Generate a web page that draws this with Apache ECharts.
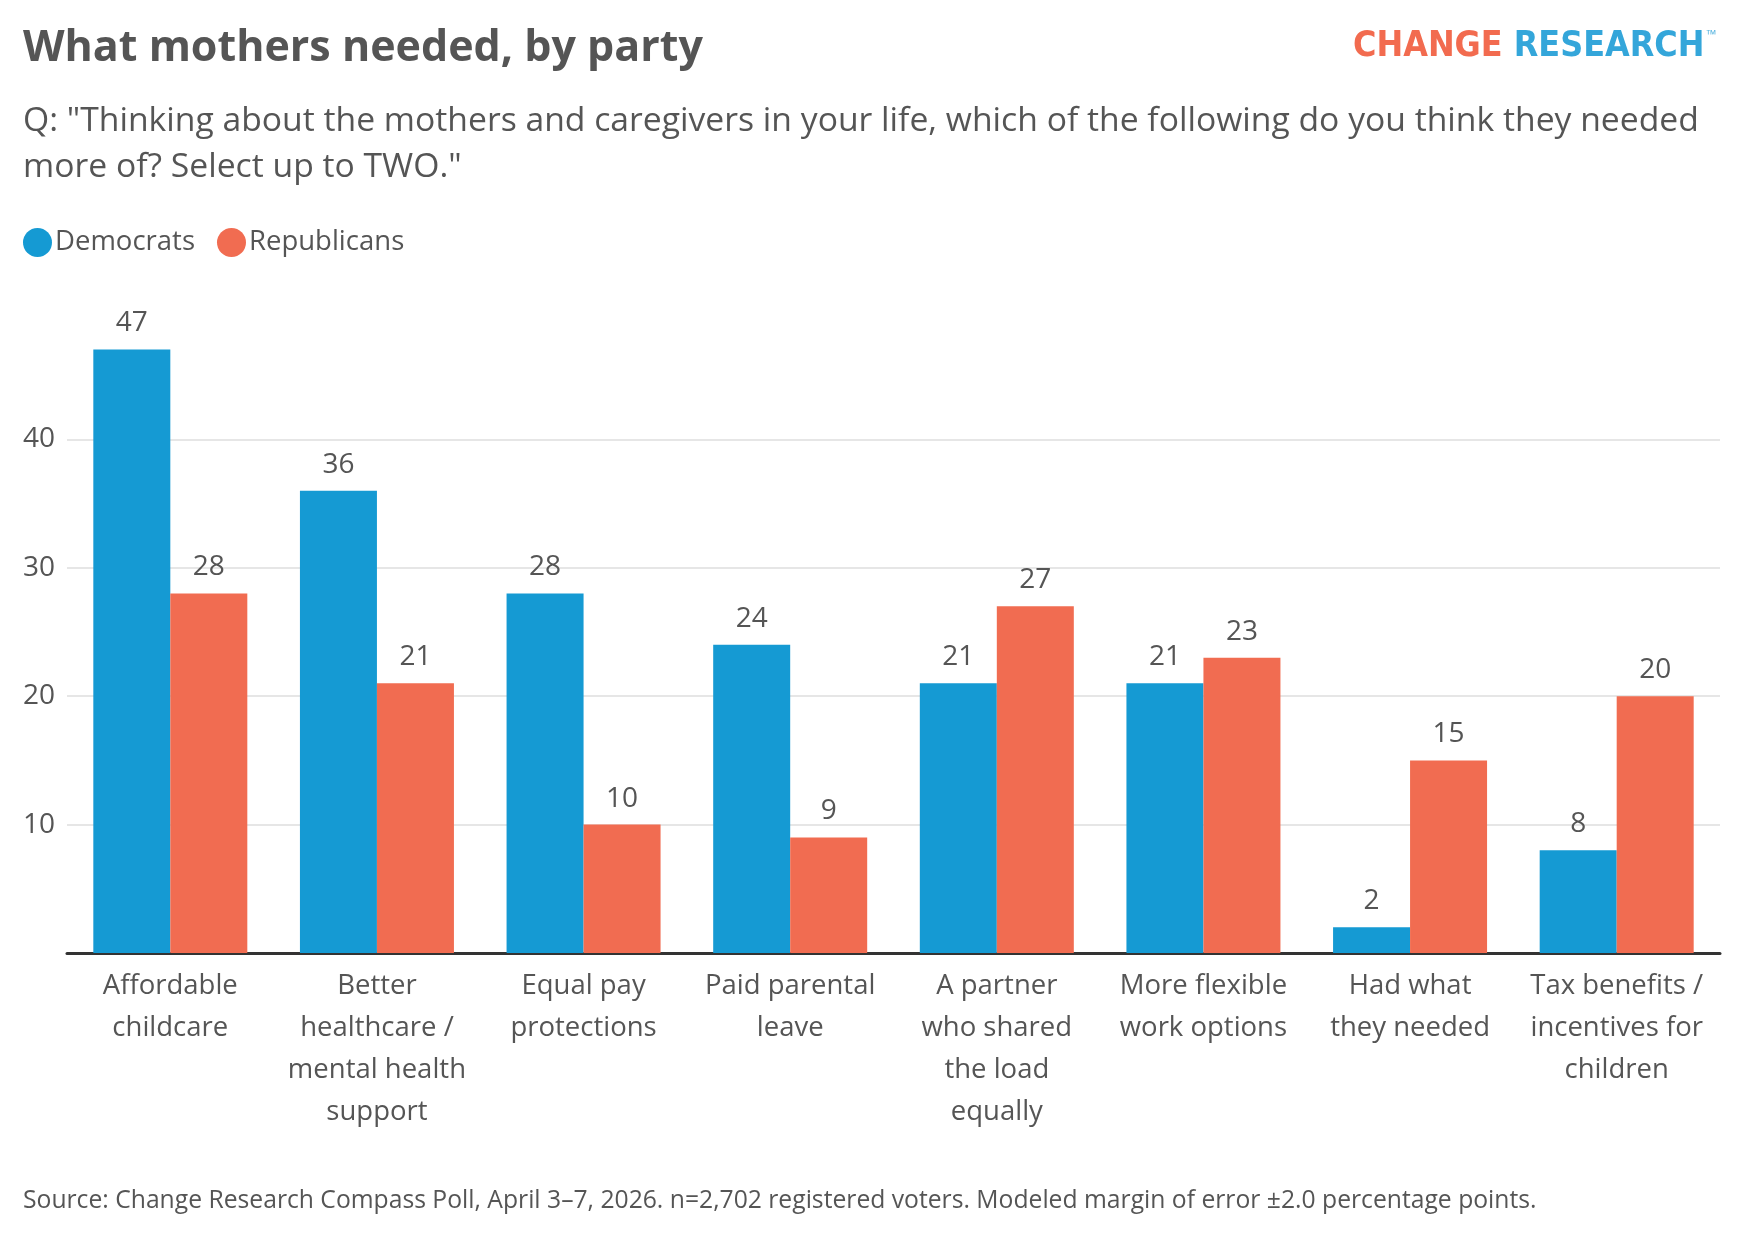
<!DOCTYPE html>
<html>
<head>
<meta charset="utf-8">
<script src="https://cdn.jsdelivr.net/npm/echarts@6/dist/echarts.min.js"></script>
<style>
  html, body { margin: 0; padding: 0; background: #fff; }
  #chart { width: 1740px; height: 1240px; }
</style>
</head>
<body>
<div id="chart"></div>
<script>
// What mothers needed, by party - grouped bars
const categories = [
    'Affordable\nchildcare',
    'Better\nhealthcare /\nmental health\nsupport',
    'Equal pay\nprotections',
    'Paid parental\nleave',
    'A partner\nwho shared\nthe load\nequally',
    'More flexible\nwork options',
    'Had what\nthey needed',
    'Tax benefits /\nincentives for\nchildren',
]
const democrats = [47, 36, 28, 24, 21, 21, 2, 8]
const republicans = [28, 21, 10, 9, 27, 23, 15, 20]
const yTicks = [0, 10, 20, 30, 40, 50]

const FONT = '"Open Sans", Lato, sans-serif'
const LOGO_FONT = '"DejaVu Sans Condensed", "DejaVu Sans", sans-serif'
const TEXT = '#555555'
const BLUE = '#159ad3'
const ORANGE = '#f16c51'

const chart = echarts.init(document.getElementById('chart'))

const option = {
    backgroundColor: '#ffffff',
    textStyle: { fontFamily: FONT },
    title: [
        {
            text: 'What mothers needed, by party',
            left: 18,
            top: 22,
            textStyle: { fontSize: 43, fontWeight: 'bold', color: TEXT, fontFamily: FONT },
        },
        {
            text: 'Q: "Thinking about the mothers and caregivers in your life, which of the following do you think they needed\nmore of? Select up to TWO."',
            left: 18,
            top: 93,
            textStyle: { fontSize: 33.7, fontWeight: 'normal', color: TEXT, lineHeight: 46, fontFamily: FONT },
        },
        {
            text: 'Source: Change Research Compass Poll, April 3\u20137, 2026. n=2,702 registered voters. Modeled margin of error \u00b12.0 percentage points.',
            left: 18,
            top: 1183,
            textStyle: { fontSize: 24.7, fontWeight: 'normal', color: TEXT, fontFamily: FONT },
        },
    ],
    graphic: [
        {
            type: 'text',
            x: 1353,
            y: 47,
            style: {
                text: '{c|CHANGE }{r|RESEARCH}{t|\u2122}',
                verticalAlign: 'middle',
                rich: {
                    c: { fontFamily: LOGO_FONT, fontWeight: 'bold', fontSize: 35.5, fill: '#f26b4f' },
                    r: { fontFamily: LOGO_FONT, fontWeight: 'bold', fontSize: 35.5, fill: '#34a6da' },
                    t: { fontFamily: FONT, fontSize: 13, fill: '#5bb6e0', verticalAlign: 'top', padding: [0, 0, 22, 2] },
                },
            },
        },
    ],
    legend: {
        left: 18,
        top: 223,
        icon: 'circle',
        itemWidth: 29,
        itemHeight: 29,
        itemGap: 22,
        textStyle: { fontSize: 27.5, color: TEXT, fontFamily: FONT, padding: [0, 0, 0, -2] },
        data: ['Democrats', 'Republicans'],
    },
    grid: {
        left: 67,
        right: 20,
        top: 311,
        bottom: 287,
    },
    xAxis: {
        type: 'category',
        data: categories,
        axisTick: { show: false },
        axisLine: { lineStyle: { color: '#333333', width: 3 } },
        axisLabel: {
            interval: 0,
            fontSize: 27.5,
            lineHeight: 42,
            color: TEXT,
            margin: 12,
            fontFamily: FONT,
        },
    },
    yAxis: {
        type: 'value',
        min: yTicks[0],
        max: yTicks[yTicks.length - 1],
        interval: 10,
        axisLine: { show: false },
        axisTick: { show: false },
        axisLabel: {
            showMinLabel: false,
            showMaxLabel: false,
            fontSize: 28,
            color: TEXT,
            margin: 12,
            fontFamily: FONT,
        },
        splitLine: {
            showMinLine: false,
            showMaxLine: false,
            lineStyle: { color: '#e6e6e6', width: 2 },
        },
    },
    series: [
        {
            name: 'Democrats',
            type: 'bar',
            data: democrats,
            barWidth: 77,
            barGap: '0%',
            itemStyle: { color: BLUE },
            label: { show: true, position: 'top', distance: 12, fontSize: 28, color: TEXT, fontFamily: FONT },
        },
        {
            name: 'Republicans',
            type: 'bar',
            data: republicans,
            barWidth: 77,
            barGap: '0%',
            itemStyle: { color: ORANGE },
            label: { show: true, position: 'top', distance: 12, fontSize: 28, color: TEXT, fontFamily: FONT },
        },
    ],
}

chart.setOption(option)
window.addEventListener('resize', () => chart.resize())
</script>
</body>
</html>
